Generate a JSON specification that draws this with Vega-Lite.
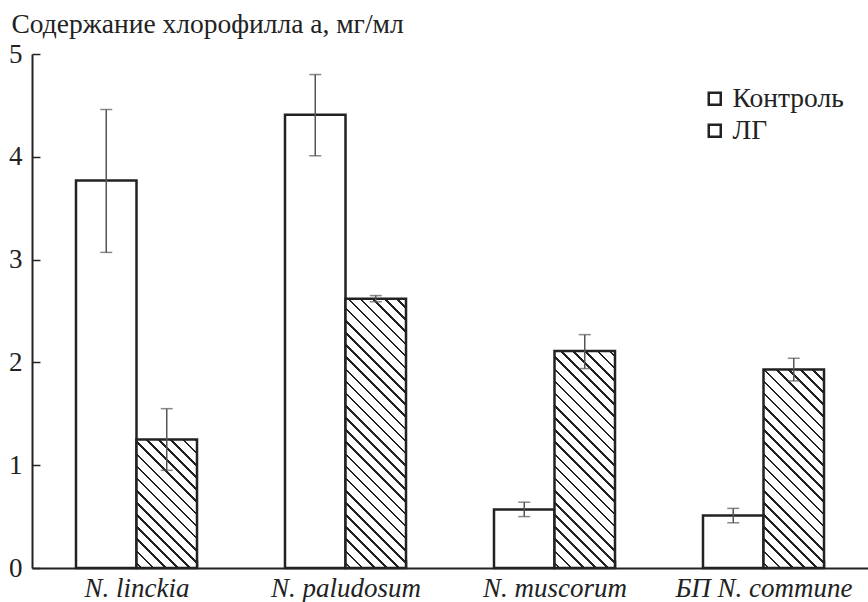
{
"$schema": "https://vega.github.io/schema/vega-lite/v6.json",
"width": 836, "height": 514,
"autosize": {"type": "none"},
"padding": {"left": 32, "top": 54, "right": 0, "bottom": 34},
"background": "white",
"config": {"view": {"stroke": null}, "axis": {"grid": false}},
"data": {"values": [
{"species": "N. linckia", "group": "Контроль", "value": 3.77, "lo": 3.07, "hi": 4.46},
{"species": "N. linckia", "group": "ЛГ", "value": 1.25, "lo": 0.95, "hi": 1.55},
{"species": "N. paludosum", "group": "Контроль", "value": 4.41, "lo": 4.01, "hi": 4.80},
{"species": "N. paludosum", "group": "ЛГ", "value": 2.62, "lo": 2.59, "hi": 2.65},
{"species": "N. muscorum", "group": "Контроль", "value": 0.57, "lo": 0.50, "hi": 0.64},
{"species": "N. muscorum", "group": "ЛГ", "value": 2.11, "lo": 1.94, "hi": 2.27},
{"species": "БП N. commune", "group": "Контроль", "value": 0.51, "lo": 0.44, "hi": 0.58},
{"species": "БП N. commune", "group": "ЛГ", "value": 1.93, "lo": 1.82, "hi": 2.04}
]},
"encoding": {
"x": {"field": "species", "type": "nominal", "sort": ["N. linckia", "N. paludosum", "N. muscorum", "БП N. commune"],
 "scale": {"paddingInner": 0.421, "paddingOuter": 0.2105},
 "axis": {"title": null, "tickBand": "extent", "tickSize": -8, "tickWidth": 1.5, "tickColor": "#222", "domainColor": "#222", "domainWidth": 2, "labelFont": "Liberation Serif", "labelFontSize": 27, "labelFontStyle": "italic", "labelColor": "#222", "labelPadding": 15, "labelAngle": 0}},
"xOffset": {"field": "group", "type": "nominal", "sort": ["Контроль", "ЛГ"], "scale": {"paddingInner": 0, "paddingOuter": 0}}
},
"layer": [
{"mark": {"type": "bar", "stroke": "#222", "strokeWidth": 2.5},
 "encoding": {
  "y": {"field": "value", "type": "quantitative", "title": "Содержание хлорофилла a, мг/мл", "scale": {"domain": [0, 5], "nice": false},
   "axis": {"values": [0, 1, 2, 3, 4, 5], "format": "d", "tickSize": -8, "tickWidth": 1.5, "tickColor": "#222", "domainColor": "#222", "domainWidth": 2, "labelFont": "Liberation Serif", "labelFontSize": 27, "labelColor": "#222", "labelPadding": 18, "titleAngle": 0, "titleAlign": "left", "titleBaseline": "alphabetic", "titleX": -21, "titleY": -22, "titleFont": "Liberation Serif", "titleFontSize": 27.5, "titleFontWeight": "normal", "titleColor": "#222"}},
  "fill": {"field": "group", "type": "nominal",
   "scale": {"domain": ["Контроль", "ЛГ"], "range": ["#fff", "#fff"]},
   "legend": {"title": null, "orient": "none", "legendX": 669, "legendY": 31, "padding": 0, "symbolType": "square", "symbolSize": 144, "symbolStrokeColor": "#222", "symbolStrokeWidth": 2.5, "labelFont": "Liberation Serif", "labelFontSize": 27.5, "labelColor": "#222", "labelOffset": 4, "rowPadding": 3,
     "encode": {"symbols": {"update": {"fill": {"signal": "datum.value === 'ЛГ' ? {gradient: 'linear', x1: 0, y1: 1, x2: 1, y2: 0, stops: [{offset: 0, color: '#222'}, {offset: 0.22, color: '#222'}, {offset: 0.22, color: '#fff'}, {offset: 0.42, color: '#fff'}, {offset: 0.42, color: '#222'}, {offset: 0.58, color: '#222'}, {offset: 0.58, color: '#fff'}, {offset: 1, color: '#fff'}]} : '#fff'"}, "stroke": {"value": "#222"}, "strokeWidth": {"value": 2.5}}}}},
   "condition": [
    {"test": "datum.group === 'ЛГ' && datum.species === 'N. linckia'", "value": {"gradient": "linear", "x1": 0, "y1": 1, "x2": 1.1029, "y2": -1.3426, "stops": [{"offset":0,"color":"#fff"},
{"offset":0.01,"color":"#fff"},{"offset":0.01,"color":"#222"},{"offset":0.017,"color":"#222"},{"offset":0.017,"color":"#fff"},
{"offset":0.043,"color":"#fff"},{"offset":0.043,"color":"#222"},{"offset":0.05,"color":"#222"},{"offset":0.05,"color":"#fff"},
{"offset":0.076,"color":"#fff"},{"offset":0.076,"color":"#222"},{"offset":0.083,"color":"#222"},{"offset":0.083,"color":"#fff"},
{"offset":0.109,"color":"#fff"},{"offset":0.109,"color":"#222"},{"offset":0.116,"color":"#222"},{"offset":0.116,"color":"#fff"},
{"offset":0.142,"color":"#fff"},{"offset":0.142,"color":"#222"},{"offset":0.149,"color":"#222"},{"offset":0.149,"color":"#fff"},
{"offset":0.175,"color":"#fff"},{"offset":0.175,"color":"#222"},{"offset":0.182,"color":"#222"},{"offset":0.182,"color":"#fff"},
{"offset":0.208,"color":"#fff"},{"offset":0.208,"color":"#222"},{"offset":0.215,"color":"#222"},{"offset":0.215,"color":"#fff"},
{"offset":0.241,"color":"#fff"},{"offset":0.241,"color":"#222"},{"offset":0.248,"color":"#222"},{"offset":0.248,"color":"#fff"},
{"offset":0.274,"color":"#fff"},{"offset":0.274,"color":"#222"},{"offset":0.281,"color":"#222"},{"offset":0.281,"color":"#fff"},
{"offset":0.307,"color":"#fff"},{"offset":0.307,"color":"#222"},{"offset":0.314,"color":"#222"},{"offset":0.314,"color":"#fff"},
{"offset":0.34,"color":"#fff"},{"offset":0.34,"color":"#222"},{"offset":0.347,"color":"#222"},{"offset":0.347,"color":"#fff"},
{"offset":0.373,"color":"#fff"},{"offset":0.373,"color":"#222"},{"offset":0.38,"color":"#222"},{"offset":0.38,"color":"#fff"},
{"offset":0.406,"color":"#fff"},{"offset":0.406,"color":"#222"},{"offset":0.413,"color":"#222"},{"offset":0.413,"color":"#fff"},
{"offset":0.439,"color":"#fff"},{"offset":0.439,"color":"#222"},{"offset":0.446,"color":"#222"},{"offset":0.446,"color":"#fff"},
{"offset":0.472,"color":"#fff"},{"offset":0.472,"color":"#222"},{"offset":0.479,"color":"#222"},{"offset":0.479,"color":"#fff"},
{"offset":0.505,"color":"#fff"},{"offset":0.505,"color":"#222"},{"offset":0.512,"color":"#222"},{"offset":0.512,"color":"#fff"},
{"offset":0.538,"color":"#fff"},{"offset":0.538,"color":"#222"},{"offset":0.545,"color":"#222"},{"offset":0.545,"color":"#fff"},
{"offset":0.571,"color":"#fff"},{"offset":0.571,"color":"#222"},{"offset":0.578,"color":"#222"},{"offset":0.578,"color":"#fff"},
{"offset":0.604,"color":"#fff"},{"offset":0.604,"color":"#222"},{"offset":0.611,"color":"#222"},{"offset":0.611,"color":"#fff"},
{"offset":0.637,"color":"#fff"},{"offset":0.637,"color":"#222"},{"offset":0.644,"color":"#222"},{"offset":0.644,"color":"#fff"},
{"offset":0.67,"color":"#fff"},{"offset":0.67,"color":"#222"},{"offset":0.677,"color":"#222"},{"offset":0.677,"color":"#fff"},
{"offset":0.703,"color":"#fff"},{"offset":0.703,"color":"#222"},{"offset":0.71,"color":"#222"},{"offset":0.71,"color":"#fff"},
{"offset":0.736,"color":"#fff"},{"offset":0.736,"color":"#222"},{"offset":0.743,"color":"#222"},{"offset":0.743,"color":"#fff"},
{"offset":0.769,"color":"#fff"},{"offset":0.769,"color":"#222"},{"offset":0.776,"color":"#222"},{"offset":0.776,"color":"#fff"},
{"offset":0.802,"color":"#fff"},{"offset":0.802,"color":"#222"},{"offset":0.809,"color":"#222"},{"offset":0.809,"color":"#fff"},
{"offset":0.835,"color":"#fff"},{"offset":0.835,"color":"#222"},{"offset":0.842,"color":"#222"},{"offset":0.842,"color":"#fff"},
{"offset":0.868,"color":"#fff"},{"offset":0.868,"color":"#222"},{"offset":0.875,"color":"#222"},{"offset":0.875,"color":"#fff"},
{"offset":0.901,"color":"#fff"},{"offset":0.901,"color":"#222"},{"offset":0.908,"color":"#222"},{"offset":0.908,"color":"#fff"},
{"offset":0.934,"color":"#fff"},{"offset":0.934,"color":"#222"},{"offset":0.941,"color":"#222"},{"offset":0.941,"color":"#fff"},
{"offset":1,"color":"#fff"}]}},
    {"test": "datum.group === 'ЛГ' && datum.species === 'N. paludosum'", "value": {"gradient": "linear", "x1": 0, "y1": 1, "x2": 0.2920, "y2": -0.2998, "stops": [{"offset":0,"color":"#fff"},
{"offset":0.01,"color":"#fff"},{"offset":0.01,"color":"#222"},{"offset":0.017,"color":"#222"},{"offset":0.017,"color":"#fff"},
{"offset":0.043,"color":"#fff"},{"offset":0.043,"color":"#222"},{"offset":0.05,"color":"#222"},{"offset":0.05,"color":"#fff"},
{"offset":0.076,"color":"#fff"},{"offset":0.076,"color":"#222"},{"offset":0.083,"color":"#222"},{"offset":0.083,"color":"#fff"},
{"offset":0.109,"color":"#fff"},{"offset":0.109,"color":"#222"},{"offset":0.116,"color":"#222"},{"offset":0.116,"color":"#fff"},
{"offset":0.142,"color":"#fff"},{"offset":0.142,"color":"#222"},{"offset":0.149,"color":"#222"},{"offset":0.149,"color":"#fff"},
{"offset":0.175,"color":"#fff"},{"offset":0.175,"color":"#222"},{"offset":0.182,"color":"#222"},{"offset":0.182,"color":"#fff"},
{"offset":0.208,"color":"#fff"},{"offset":0.208,"color":"#222"},{"offset":0.215,"color":"#222"},{"offset":0.215,"color":"#fff"},
{"offset":0.241,"color":"#fff"},{"offset":0.241,"color":"#222"},{"offset":0.248,"color":"#222"},{"offset":0.248,"color":"#fff"},
{"offset":0.274,"color":"#fff"},{"offset":0.274,"color":"#222"},{"offset":0.281,"color":"#222"},{"offset":0.281,"color":"#fff"},
{"offset":0.307,"color":"#fff"},{"offset":0.307,"color":"#222"},{"offset":0.314,"color":"#222"},{"offset":0.314,"color":"#fff"},
{"offset":0.34,"color":"#fff"},{"offset":0.34,"color":"#222"},{"offset":0.347,"color":"#222"},{"offset":0.347,"color":"#fff"},
{"offset":0.373,"color":"#fff"},{"offset":0.373,"color":"#222"},{"offset":0.38,"color":"#222"},{"offset":0.38,"color":"#fff"},
{"offset":0.406,"color":"#fff"},{"offset":0.406,"color":"#222"},{"offset":0.413,"color":"#222"},{"offset":0.413,"color":"#fff"},
{"offset":0.439,"color":"#fff"},{"offset":0.439,"color":"#222"},{"offset":0.446,"color":"#222"},{"offset":0.446,"color":"#fff"},
{"offset":0.472,"color":"#fff"},{"offset":0.472,"color":"#222"},{"offset":0.479,"color":"#222"},{"offset":0.479,"color":"#fff"},
{"offset":0.505,"color":"#fff"},{"offset":0.505,"color":"#222"},{"offset":0.512,"color":"#222"},{"offset":0.512,"color":"#fff"},
{"offset":0.538,"color":"#fff"},{"offset":0.538,"color":"#222"},{"offset":0.545,"color":"#222"},{"offset":0.545,"color":"#fff"},
{"offset":0.571,"color":"#fff"},{"offset":0.571,"color":"#222"},{"offset":0.578,"color":"#222"},{"offset":0.578,"color":"#fff"},
{"offset":0.604,"color":"#fff"},{"offset":0.604,"color":"#222"},{"offset":0.611,"color":"#222"},{"offset":0.611,"color":"#fff"},
{"offset":0.637,"color":"#fff"},{"offset":0.637,"color":"#222"},{"offset":0.644,"color":"#222"},{"offset":0.644,"color":"#fff"},
{"offset":0.67,"color":"#fff"},{"offset":0.67,"color":"#222"},{"offset":0.677,"color":"#222"},{"offset":0.677,"color":"#fff"},
{"offset":0.703,"color":"#fff"},{"offset":0.703,"color":"#222"},{"offset":0.71,"color":"#222"},{"offset":0.71,"color":"#fff"},
{"offset":0.736,"color":"#fff"},{"offset":0.736,"color":"#222"},{"offset":0.743,"color":"#222"},{"offset":0.743,"color":"#fff"},
{"offset":0.769,"color":"#fff"},{"offset":0.769,"color":"#222"},{"offset":0.776,"color":"#222"},{"offset":0.776,"color":"#fff"},
{"offset":0.802,"color":"#fff"},{"offset":0.802,"color":"#222"},{"offset":0.809,"color":"#222"},{"offset":0.809,"color":"#fff"},
{"offset":0.835,"color":"#fff"},{"offset":0.835,"color":"#222"},{"offset":0.842,"color":"#222"},{"offset":0.842,"color":"#fff"},
{"offset":0.868,"color":"#fff"},{"offset":0.868,"color":"#222"},{"offset":0.875,"color":"#222"},{"offset":0.875,"color":"#fff"},
{"offset":0.901,"color":"#fff"},{"offset":0.901,"color":"#222"},{"offset":0.908,"color":"#222"},{"offset":0.908,"color":"#fff"},
{"offset":0.934,"color":"#fff"},{"offset":0.934,"color":"#222"},{"offset":0.941,"color":"#222"},{"offset":0.941,"color":"#fff"},
{"offset":1,"color":"#fff"}]}},
    {"test": "datum.group === 'ЛГ' && datum.species === 'N. muscorum'", "value": {"gradient": "linear", "x1": 0, "y1": 1, "x2": 0.4387, "y2": -0.5729, "stops": [{"offset":0,"color":"#fff"},
{"offset":0.01,"color":"#fff"},{"offset":0.01,"color":"#222"},{"offset":0.017,"color":"#222"},{"offset":0.017,"color":"#fff"},
{"offset":0.043,"color":"#fff"},{"offset":0.043,"color":"#222"},{"offset":0.05,"color":"#222"},{"offset":0.05,"color":"#fff"},
{"offset":0.076,"color":"#fff"},{"offset":0.076,"color":"#222"},{"offset":0.083,"color":"#222"},{"offset":0.083,"color":"#fff"},
{"offset":0.109,"color":"#fff"},{"offset":0.109,"color":"#222"},{"offset":0.116,"color":"#222"},{"offset":0.116,"color":"#fff"},
{"offset":0.142,"color":"#fff"},{"offset":0.142,"color":"#222"},{"offset":0.149,"color":"#222"},{"offset":0.149,"color":"#fff"},
{"offset":0.175,"color":"#fff"},{"offset":0.175,"color":"#222"},{"offset":0.182,"color":"#222"},{"offset":0.182,"color":"#fff"},
{"offset":0.208,"color":"#fff"},{"offset":0.208,"color":"#222"},{"offset":0.215,"color":"#222"},{"offset":0.215,"color":"#fff"},
{"offset":0.241,"color":"#fff"},{"offset":0.241,"color":"#222"},{"offset":0.248,"color":"#222"},{"offset":0.248,"color":"#fff"},
{"offset":0.274,"color":"#fff"},{"offset":0.274,"color":"#222"},{"offset":0.281,"color":"#222"},{"offset":0.281,"color":"#fff"},
{"offset":0.307,"color":"#fff"},{"offset":0.307,"color":"#222"},{"offset":0.314,"color":"#222"},{"offset":0.314,"color":"#fff"},
{"offset":0.34,"color":"#fff"},{"offset":0.34,"color":"#222"},{"offset":0.347,"color":"#222"},{"offset":0.347,"color":"#fff"},
{"offset":0.373,"color":"#fff"},{"offset":0.373,"color":"#222"},{"offset":0.38,"color":"#222"},{"offset":0.38,"color":"#fff"},
{"offset":0.406,"color":"#fff"},{"offset":0.406,"color":"#222"},{"offset":0.413,"color":"#222"},{"offset":0.413,"color":"#fff"},
{"offset":0.439,"color":"#fff"},{"offset":0.439,"color":"#222"},{"offset":0.446,"color":"#222"},{"offset":0.446,"color":"#fff"},
{"offset":0.472,"color":"#fff"},{"offset":0.472,"color":"#222"},{"offset":0.479,"color":"#222"},{"offset":0.479,"color":"#fff"},
{"offset":0.505,"color":"#fff"},{"offset":0.505,"color":"#222"},{"offset":0.512,"color":"#222"},{"offset":0.512,"color":"#fff"},
{"offset":0.538,"color":"#fff"},{"offset":0.538,"color":"#222"},{"offset":0.545,"color":"#222"},{"offset":0.545,"color":"#fff"},
{"offset":0.571,"color":"#fff"},{"offset":0.571,"color":"#222"},{"offset":0.578,"color":"#222"},{"offset":0.578,"color":"#fff"},
{"offset":0.604,"color":"#fff"},{"offset":0.604,"color":"#222"},{"offset":0.611,"color":"#222"},{"offset":0.611,"color":"#fff"},
{"offset":0.637,"color":"#fff"},{"offset":0.637,"color":"#222"},{"offset":0.644,"color":"#222"},{"offset":0.644,"color":"#fff"},
{"offset":0.67,"color":"#fff"},{"offset":0.67,"color":"#222"},{"offset":0.677,"color":"#222"},{"offset":0.677,"color":"#fff"},
{"offset":0.703,"color":"#fff"},{"offset":0.703,"color":"#222"},{"offset":0.71,"color":"#222"},{"offset":0.71,"color":"#fff"},
{"offset":0.736,"color":"#fff"},{"offset":0.736,"color":"#222"},{"offset":0.743,"color":"#222"},{"offset":0.743,"color":"#fff"},
{"offset":0.769,"color":"#fff"},{"offset":0.769,"color":"#222"},{"offset":0.776,"color":"#222"},{"offset":0.776,"color":"#fff"},
{"offset":0.802,"color":"#fff"},{"offset":0.802,"color":"#222"},{"offset":0.809,"color":"#222"},{"offset":0.809,"color":"#fff"},
{"offset":0.835,"color":"#fff"},{"offset":0.835,"color":"#222"},{"offset":0.842,"color":"#222"},{"offset":0.842,"color":"#fff"},
{"offset":0.868,"color":"#fff"},{"offset":0.868,"color":"#222"},{"offset":0.875,"color":"#222"},{"offset":0.875,"color":"#fff"},
{"offset":0.901,"color":"#fff"},{"offset":0.901,"color":"#222"},{"offset":0.908,"color":"#222"},{"offset":0.908,"color":"#fff"},
{"offset":0.934,"color":"#fff"},{"offset":0.934,"color":"#222"},{"offset":0.941,"color":"#222"},{"offset":0.941,"color":"#fff"},
{"offset":1,"color":"#fff"}]}},
    {"test": "datum.group === 'ЛГ' && datum.species === 'БП N. commune'", "value": {"gradient": "linear", "x1": 0, "y1": 1, "x2": 0.5171, "y2": -0.6957, "stops": [{"offset":0,"color":"#fff"},
{"offset":0.01,"color":"#fff"},{"offset":0.01,"color":"#222"},{"offset":0.017,"color":"#222"},{"offset":0.017,"color":"#fff"},
{"offset":0.043,"color":"#fff"},{"offset":0.043,"color":"#222"},{"offset":0.05,"color":"#222"},{"offset":0.05,"color":"#fff"},
{"offset":0.076,"color":"#fff"},{"offset":0.076,"color":"#222"},{"offset":0.083,"color":"#222"},{"offset":0.083,"color":"#fff"},
{"offset":0.109,"color":"#fff"},{"offset":0.109,"color":"#222"},{"offset":0.116,"color":"#222"},{"offset":0.116,"color":"#fff"},
{"offset":0.142,"color":"#fff"},{"offset":0.142,"color":"#222"},{"offset":0.149,"color":"#222"},{"offset":0.149,"color":"#fff"},
{"offset":0.175,"color":"#fff"},{"offset":0.175,"color":"#222"},{"offset":0.182,"color":"#222"},{"offset":0.182,"color":"#fff"},
{"offset":0.208,"color":"#fff"},{"offset":0.208,"color":"#222"},{"offset":0.215,"color":"#222"},{"offset":0.215,"color":"#fff"},
{"offset":0.241,"color":"#fff"},{"offset":0.241,"color":"#222"},{"offset":0.248,"color":"#222"},{"offset":0.248,"color":"#fff"},
{"offset":0.274,"color":"#fff"},{"offset":0.274,"color":"#222"},{"offset":0.281,"color":"#222"},{"offset":0.281,"color":"#fff"},
{"offset":0.307,"color":"#fff"},{"offset":0.307,"color":"#222"},{"offset":0.314,"color":"#222"},{"offset":0.314,"color":"#fff"},
{"offset":0.34,"color":"#fff"},{"offset":0.34,"color":"#222"},{"offset":0.347,"color":"#222"},{"offset":0.347,"color":"#fff"},
{"offset":0.373,"color":"#fff"},{"offset":0.373,"color":"#222"},{"offset":0.38,"color":"#222"},{"offset":0.38,"color":"#fff"},
{"offset":0.406,"color":"#fff"},{"offset":0.406,"color":"#222"},{"offset":0.413,"color":"#222"},{"offset":0.413,"color":"#fff"},
{"offset":0.439,"color":"#fff"},{"offset":0.439,"color":"#222"},{"offset":0.446,"color":"#222"},{"offset":0.446,"color":"#fff"},
{"offset":0.472,"color":"#fff"},{"offset":0.472,"color":"#222"},{"offset":0.479,"color":"#222"},{"offset":0.479,"color":"#fff"},
{"offset":0.505,"color":"#fff"},{"offset":0.505,"color":"#222"},{"offset":0.512,"color":"#222"},{"offset":0.512,"color":"#fff"},
{"offset":0.538,"color":"#fff"},{"offset":0.538,"color":"#222"},{"offset":0.545,"color":"#222"},{"offset":0.545,"color":"#fff"},
{"offset":0.571,"color":"#fff"},{"offset":0.571,"color":"#222"},{"offset":0.578,"color":"#222"},{"offset":0.578,"color":"#fff"},
{"offset":0.604,"color":"#fff"},{"offset":0.604,"color":"#222"},{"offset":0.611,"color":"#222"},{"offset":0.611,"color":"#fff"},
{"offset":0.637,"color":"#fff"},{"offset":0.637,"color":"#222"},{"offset":0.644,"color":"#222"},{"offset":0.644,"color":"#fff"},
{"offset":0.67,"color":"#fff"},{"offset":0.67,"color":"#222"},{"offset":0.677,"color":"#222"},{"offset":0.677,"color":"#fff"},
{"offset":0.703,"color":"#fff"},{"offset":0.703,"color":"#222"},{"offset":0.71,"color":"#222"},{"offset":0.71,"color":"#fff"},
{"offset":0.736,"color":"#fff"},{"offset":0.736,"color":"#222"},{"offset":0.743,"color":"#222"},{"offset":0.743,"color":"#fff"},
{"offset":0.769,"color":"#fff"},{"offset":0.769,"color":"#222"},{"offset":0.776,"color":"#222"},{"offset":0.776,"color":"#fff"},
{"offset":0.802,"color":"#fff"},{"offset":0.802,"color":"#222"},{"offset":0.809,"color":"#222"},{"offset":0.809,"color":"#fff"},
{"offset":0.835,"color":"#fff"},{"offset":0.835,"color":"#222"},{"offset":0.842,"color":"#222"},{"offset":0.842,"color":"#fff"},
{"offset":0.868,"color":"#fff"},{"offset":0.868,"color":"#222"},{"offset":0.875,"color":"#222"},{"offset":0.875,"color":"#fff"},
{"offset":0.901,"color":"#fff"},{"offset":0.901,"color":"#222"},{"offset":0.908,"color":"#222"},{"offset":0.908,"color":"#fff"},
{"offset":0.934,"color":"#fff"},{"offset":0.934,"color":"#222"},{"offset":0.941,"color":"#222"},{"offset":0.941,"color":"#fff"},
{"offset":1,"color":"#fff"}]}}
   ]}
 }},
{"mark": {"type": "rule", "color": "#555", "strokeWidth": 1.5},
 "encoding": {"y": {"field": "lo", "type": "quantitative", "title": "Содержание хлорофилла a, мг/мл"}, "y2": {"field": "hi"}}},
{"mark": {"type": "tick", "orient": "horizontal", "color": "#555", "size": 12, "thickness": 1.5},
 "encoding": {"y": {"field": "hi", "type": "quantitative", "title": "Содержание хлорофилла a, мг/мл"}}},
{"mark": {"type": "tick", "orient": "horizontal", "color": "#555", "size": 12, "thickness": 1.5},
 "encoding": {"y": {"field": "lo", "type": "quantitative", "title": "Содержание хлорофилла a, мг/мл"}}}
]
}
